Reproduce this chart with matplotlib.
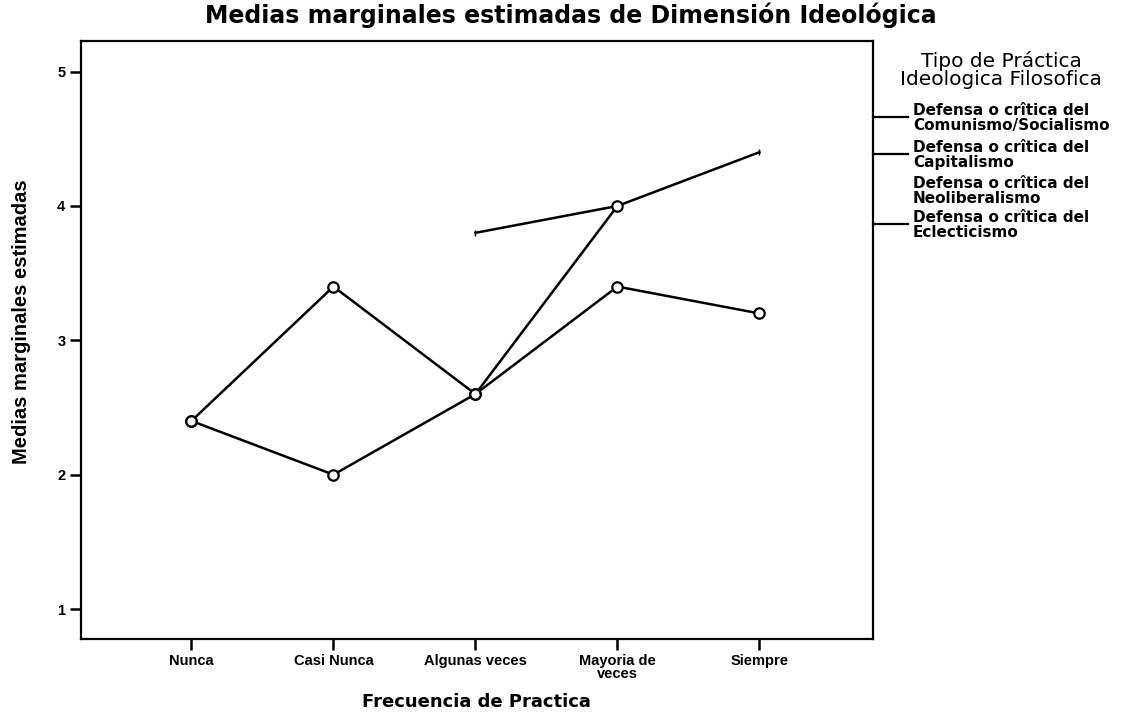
import matplotlib
matplotlib.use("Agg")
import matplotlib.pyplot as plt
from matplotlib.lines import Line2D

categories = ["Nunca", "Casi Nunca", "Algunas veces", "Mayoria de\nveces", "Siempre"]
comunismo = [2.4, 3.4, 2.6, 4.0, None]
capitalismo = [None, None, 3.8, 4.0, 4.4]
eclecticismo = [2.4, 2.0, 2.6, 3.4, 3.2]
legend_labels = ["Defensa o crîtica del\nComunismo/Socialismo",
                 "Defensa o crîtica del\nCapitalismo",
                 "Defensa o crîtica del\nNeoliberalismo",
                 "Defensa o crîtica del\nEclecticismo"]
legend_has_line = [True, True, False, True]
yticks = [1, 2, 3, 4, 5]

plt.rcParams['font.family'] = ['Liberation Sans', 'DejaVu Sans']
WIDE = ['DejaVu Sans']

fig = plt.figure(figsize=(11.34, 7.28), dpi=100)
W, H = 1134, 728
L, T, R, B = 80.7, 40.7, 873, 639
ax = fig.add_axes([L / W, 1 - B / H, (R - L) / W, (B - T) / H])

x = list(range(len(categories)))

def seg(vals):
    xs = [xi for xi, v in zip(x, vals) if v is not None]
    ys = [v for v in vals if v is not None]
    return xs, ys

mk = dict(marker='o', ms=7.5, mfc='white', mec='black', mew=1.6)
xs, ys = seg(comunismo)
ax.plot(xs, ys, color='black', lw=1.8, zorder=3, **mk)
xs, ys = seg(capitalismo)
ax.plot(xs, ys, color='black', lw=1.8, marker='|', ms=5, zorder=2)
xs, ys = seg(eclecticismo)
ax.plot(xs, ys, color='black', lw=1.8, zorder=3, **mk)

ax.set_xlim(-0.78, 4.80)
ax.set_ylim(0.777, 5.23)
ax.set_xticks(x)
ax.set_xticklabels(categories, fontsize=10.5, fontweight='bold', linespacing=0.85)
ax.set_yticks(yticks)
ax.set_yticklabels([str(t) for t in yticks], fontsize=10.5, fontweight='bold')
ax.tick_params(axis='both', direction='out', length=8, width=1.8, pad=3)
for s in ax.spines.values():
    s.set_linewidth(1.6)

fig.text(571 / W, 1 - 15 / H, "Medias marginales estimadas de Dimensión Ideológica", fontsize=17,
         fontweight='bold', ha='center', va='center', family=WIDE)
ax.set_xlabel("Frecuencia de Practica", fontsize=13, fontweight='bold', labelpad=9, family=WIDE)
ax.set_ylabel("Medias marginales estimadas", fontsize=14.5, fontweight='bold')
ax.yaxis.set_label_coords(-0.063, 0.53)

# SPSS-style legend at right
fig.text(1001 / W, 1 - 70 / H, "Tipo de Práctica\nIdeologica Filosofica", ha='center', va='center',
         fontsize=14.5, linespacing=0.98, family=WIDE)
ys_leg = [117, 154, 190, 224]
for yl, lab, has in zip(ys_leg, legend_labels, legend_has_line):
    if has:
        fig.add_artist(Line2D([R / W, 908 / W], [1 - yl / H, 1 - yl / H], color='black', lw=1.6,
                              transform=fig.transFigure))
    fig.text(913 / W, 1 - (yl + 1) / H, lab, ha='left', va='center', fontsize=11,
             fontweight='bold', linespacing=0.95, family=WIDE)

fig.savefig("out.png", dpi=100, facecolor='white')
